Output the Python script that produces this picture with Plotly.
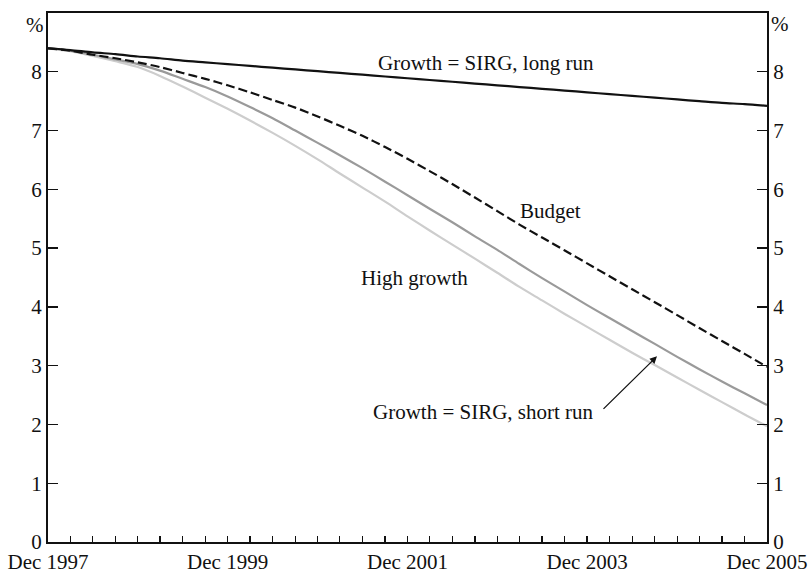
import plotly.graph_objects as go

# Quarterly periods, Dec 1997 .. Dec 2005
years = list(range(1997, 2006))
quarters = []
for y in years:
    for m in (3, 6, 9, 12):
        d = f"{y}-{m:02d}-01"
        if "1997-12-01" <= d <= "2005-12-01":
            quarters.append(d)

long_run = [8.40, 8.37, 8.33, 8.30, 8.26, 8.23, 8.19, 8.16, 8.13, 8.10, 8.07,
            8.04, 8.01, 7.98, 7.95, 7.92, 7.89, 7.86, 7.83, 7.80, 7.77, 7.74,
            7.71, 7.68, 7.65, 7.62, 7.59, 7.56, 7.53, 7.50, 7.47, 7.45, 7.42]
budget = [8.40, 8.36, 8.29, 8.23, 8.16, 8.08, 7.98, 7.88, 7.77, 7.65, 7.52,
          7.39, 7.24, 7.08, 6.91, 6.72, 6.52, 6.31, 6.09, 5.86, 5.63, 5.40,
          5.18, 4.96, 4.74, 4.52, 4.30, 4.08, 3.86, 3.64, 3.42, 3.20, 2.98]
short_run = [8.40, 8.36, 8.29, 8.21, 8.13, 8.02, 7.88, 7.74, 7.58, 7.40, 7.21,
             7.00, 6.79, 6.58, 6.36, 6.13, 5.90, 5.67, 5.44, 5.20, 4.97, 4.73,
             4.49, 4.26, 4.03, 3.81, 3.59, 3.37, 3.15, 2.94, 2.73, 2.53, 2.33]
high_growth = [8.40, 8.35, 8.27, 8.18, 8.08, 7.93, 7.75, 7.56, 7.37, 7.17, 6.96,
               6.74, 6.51, 6.27, 6.03, 5.79, 5.54, 5.30, 5.06, 4.82, 4.58, 4.34,
               4.11, 3.88, 3.66, 3.44, 3.22, 3.01, 2.80, 2.59, 2.38, 2.17, 1.97]

x_tick_vals = ["1997-12-01", "1999-12-01", "2001-12-01", "2003-12-01", "2005-12-01"]
x_tick_text = ["Dec 1997", "Dec 1999", "Dec 2001", "Dec 2003", "Dec 2005"]
y_ticks = [0, 1, 2, 3, 4, 5, 6, 7, 8]

FONT = "Liberation Serif, Times New Roman, serif"
FS = 21
INK = "#111111"

fig = go.Figure()
fig.add_trace(go.Scatter(x=quarters, y=high_growth, mode="lines",
                         line=dict(color="#cdcdcd", width=2.2, shape="spline", smoothing=0.8),
                         name="High growth"))
fig.add_trace(go.Scatter(x=quarters, y=short_run, mode="lines",
                         line=dict(color="#9a9a9a", width=2.2, shape="spline", smoothing=0.8),
                         name="Growth = SIRG, short run"))
fig.add_trace(go.Scatter(x=quarters, y=budget, mode="lines",
                         line=dict(color=INK, width=2.2, dash="9px,4px", shape="spline", smoothing=0.8),
                         name="Budget"))
fig.add_trace(go.Scatter(x=quarters, y=long_run, mode="lines",
                         line=dict(color=INK, width=2.2, shape="spline", smoothing=0.8),
                         name="Growth = SIRG, long run"))
# invisible trace to anchor right axis
fig.add_trace(go.Scatter(x=quarters, y=long_run, mode="lines", yaxis="y2",
                         line=dict(width=0), opacity=0, hoverinfo="skip", showlegend=False))

fig.update_layout(
    width=808, height=572,
    margin=dict(l=48, r=41, t=13, b=30),
    paper_bgcolor="white", plot_bgcolor="white",
    showlegend=False,
    font=dict(family=FONT, size=FS, color=INK),
    xaxis=dict(
        type="date", automargin=False, ticklabeloverflow="allow",
        range=["1997-12-01", "2005-12-01"],
        tickvals=x_tick_vals, ticktext=x_tick_text,
        ticks="inside", ticklen=6, tickwidth=1.3, tickcolor=INK,
        minor=dict(ticks="inside", ticklen=6, tickwidth=1.3, tickcolor=INK,
                   dtick="M3", tick0="1997-12-01", showgrid=False),
        showline=True, linewidth=2, linecolor=INK, mirror=True,
        showgrid=False, zeroline=False, ticklabelstandoff=0,
        tickfont=dict(family=FONT, size=FS, color=INK),
    ),
    yaxis=dict(
        range=[0, 9], tickvals=y_ticks, automargin=False, ticklabeloverflow="allow",
        ticks="inside", ticklen=10, tickwidth=1.3, tickcolor=INK,
        showline=True, linewidth=2, linecolor=INK,
        showgrid=False, zeroline=False,
        tickfont=dict(family=FONT, size=FS, color=INK),
    ),
    yaxis2=dict(
        range=[0, 9], tickvals=y_ticks, overlaying="y", side="right",
        automargin=False, ticklabeloverflow="allow",
        ticks="inside", ticklen=10, tickwidth=1.3, tickcolor=INK,
        showline=True, linewidth=2, linecolor=INK,
        showgrid=False, zeroline=False,
        tickfont=dict(family=FONT, size=FS, color=INK),
    ),
)

ann_font = dict(family=FONT, size=FS, color=INK)
labels = [
    ("%", -0.018, 0.978),
    ("%", 1.018, 0.980),
    ("Growth = SIRG, long run", 0.609, 0.905),
    ("Budget", 0.699, 0.625),
    ("High growth", 0.510, 0.500),
    ("Growth = SIRG, short run", 0.606, 0.2455),
]
for txt, px, py in labels:
    fig.add_annotation(text=txt, xref="paper", yref="paper", x=px, y=py,
                       xanchor="center", yanchor="middle",
                       showarrow=False, font=ann_font)
fig.add_annotation(text="", xref="paper", yref="paper", x=0.847, y=0.351,
                   ax=-55, ay=54, showarrow=True, arrowhead=2, arrowsize=1.1,
                   arrowwidth=1.3, arrowcolor=INK, standoff=0)

fig.write_html("out.html", config={"displayModeBar": False, "staticPlot": True},
               post_script="document.body.style.margin='0';document.body.style.overflow='hidden';")
